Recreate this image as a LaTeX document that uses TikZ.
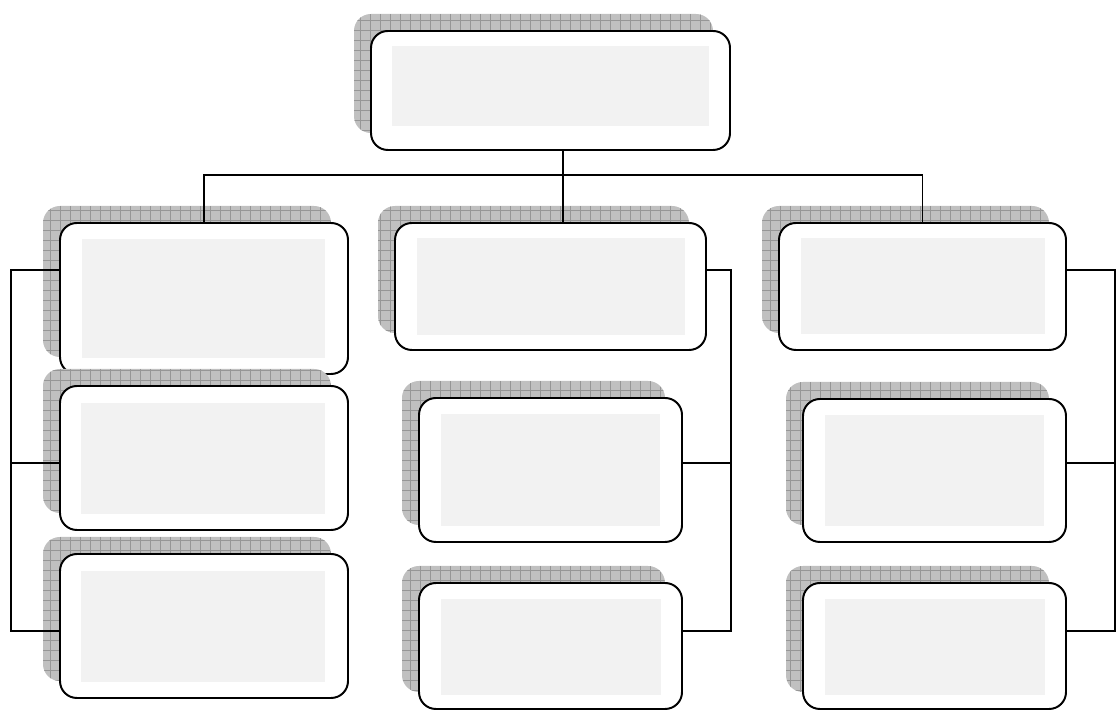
\documentclass[tikz,border=0pt]{standalone}
\usetikzlibrary{fit}
\definecolor{backgray}{RGB}{192,192,192}
\definecolor{gridgray}{RGB}{150,150,150}
\definecolor{panelgray}{RGB}{242,242,242}
\begin{document}
\begin{tikzpicture}[x=0.025cm,y=-0.025cm,
    card/.style={draw,line width=1.4pt,fill=white,rounded corners=12pt,inner sep=0pt},
    backdrop/.style={fill=backgray,rounded corners=12pt},
    link/.style={line width=0.9pt}]
  \useasboundingbox (0,0) rectangle (1120,720);
  % cards: name / outer box / inner panel
  \foreach \n/\xa/\ya/\xb/\yb/\ia/\ja/\ib/\jb in {
      top/371/31/730/150/392/46/709/126,
      la/60/223/348/374/82/239/325/358,
      lb/60/386/348/530/81/403/325/514,
      lc/60/554/348/698/81/571/325/682,
      ma/395/223/706/350/417/238/685/335,
      mb/419/398/682/542/441/414/660/526,
      mc/419/583/682/709/441/599/661/695,
      ra/779/223/1066/350/801/238/1045/334,
      rb/803/399/1066/542/825/415/1044/526,
      rc/803/583/1066/709/825/599/1045/695}{
    \fill[backdrop] (\xa-17,\ya-17) rectangle (\xb-17,\yb-17);
    \begin{scope}
      \clip[rounded corners=12pt] (\xa-17,\ya-17) rectangle (\xb-17,\yb-17);
      \draw[gridgray,line width=0.4pt,step=0.25cm] (\xa-17,\ya-17) grid (\xb-17,\yb-17);
    \end{scope}
    \node[card,fit={(\xa,\ya) (\xb,\yb)}] (\n) {};
    \fill[panelgray] (\ia,\ja) rectangle (\ib,\jb);
  }
  % levels of the side brackets
  \coordinate (hub) at (563,175);
  \coordinate (row1) at (0,270);
  \coordinate (row2) at (0,463);
  \coordinate (row3) at (0,631);
  \coordinate (lbar) at (11,0);
  \coordinate (mbar) at (731,0);
  \coordinate (rbar) at (1115,0);
  % tree
  \draw[link] (top.south -| hub) -- (hub);
  \draw[link] (la.north) |- (hub) -| (ra.north);
  \draw[link] (hub) -- (ma.north -| hub);
  % brackets
  \draw[link] (la.west |- row1) -| (lbar |- row3) -- (lc.west |- row3);
  \draw[link] (lb.west |- row2) -- (lbar |- row2);
  \draw[link] (ma.east |- row1) -| (mbar |- row3) -- (mc.east |- row3);
  \draw[link] (mb.east |- row2) -- (mbar |- row2);
  \draw[link] (ra.east |- row1) -| (rbar |- row3) -- (rc.east |- row3);
  \draw[link] (rb.east |- row2) -- (rbar |- row2);
\end{tikzpicture}
\end{document}
